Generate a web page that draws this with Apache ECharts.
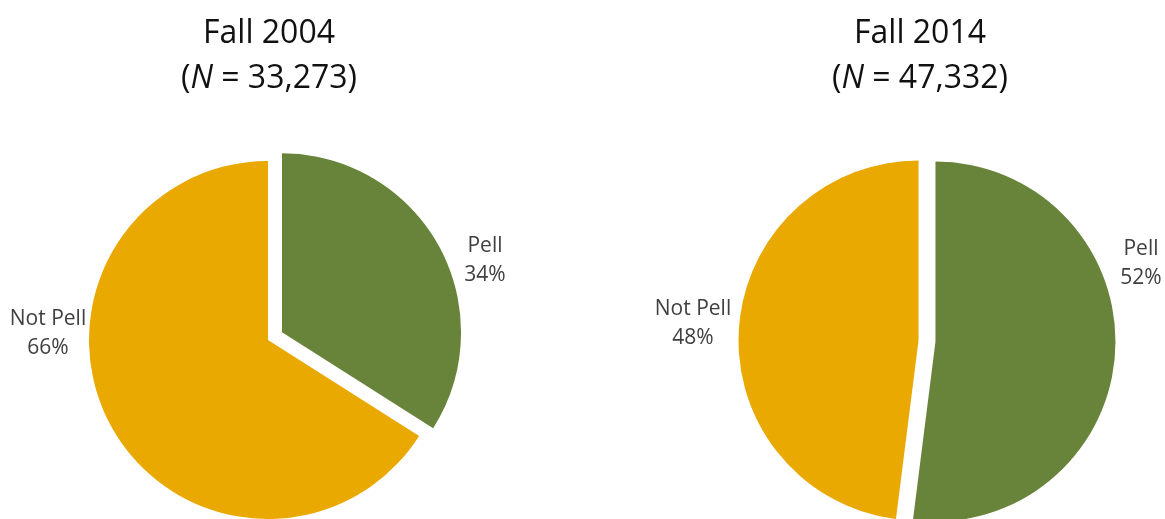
<!DOCTYPE html>
<html>
<head>
<meta charset="utf-8">
<script src="https://cdn.jsdelivr.net/npm/echarts@6/dist/echarts.min.js"></script>
<style>
  html, body { margin: 0; padding: 0; background: #fff; }
  #chart { width: 1165px; height: 519px; }
</style>
</head>
<body>
<div id="chart"></div>
<script>
var categories = ['Pell', 'Not Pell'];
var fall2004 = [34, 66];
var fall2014 = [52, 48];
var termNames = ['Fall 2004', 'Fall 2014'];
var termCounts = ['33,273', '47,332'];

(function() {
  var green = '#68843b';
  var gold = '#eaa900';
  var labelColor = '#404040';
  var font = '"Open Sans", "Liberation Sans", sans-serif';

  // where each pie sits, and where Excel dropped its data labels
  var pies = [
    { values: fall2004, center: [268, 340], radius: 179, offset: 16, exploded: [true, false],
      labelAt: [[485, 261], [48, 334]] },
    { values: fall2014, center: [927, 341], radius: 180, offset: 8.5, exploded: [true, true],
      labelAt: [[1141, 264], [693, 324]] }
  ];
  var titleX = [269, 920];

  var chart = echarts.init(document.getElementById('chart'), null, { renderer: 'canvas' });

  var titles = termNames.map(function(name, i) {
    return {
      text: name + '\n(' + '{i|N}' + ' = ' + termCounts[i] + ')',
      left: titleX[i],
      top: 11,
      padding: 0,
      textAlign: 'center',
      textStyle: {
        fontFamily: font,
        fontSize: 32,
        fontWeight: 'normal',
        color: '#111',
        lineHeight: 45,
        rich: {
          i: { fontFamily: font, fontSize: 32, fontStyle: 'italic', color: '#111', lineHeight: 45 }
        }
      }
    };
  });

  var series = pies.map(function(p) {
    return {
      type: 'pie',
      center: p.center,
      radius: p.radius,
      startAngle: 90,
      clockwise: true,
      selectedMode: 'multiple',
      selectedOffset: p.offset,
      silent: true,
      emphasis: { disabled: true },
      label: { show: false },
      labelLine: { show: false },
      data: categories.map(function(c, j) {
        return {
          name: c,
          value: p.values[j],
          selected: p.exploded[j],
          itemStyle: { color: j === 0 ? green : gold }
        };
      })
    };
  });

  // data labels, text built from the same arrays
  var labels = [];
  pies.forEach(function(p) {
    categories.forEach(function(c, j) {
      labels.push({
        type: 'text',
        x: p.labelAt[j][0],
        y: p.labelAt[j][1],
        silent: true,
        style: {
          text: c + '\n' + p.values[j] + '%',
          fontFamily: font,
          fontSize: 21,
          lineHeight: 29,
          fill: labelColor,
          align: 'center',
          verticalAlign: 'middle'
        }
      });
    });
  });

  chart.setOption({
    animation: false,
    title: titles,
    series: series,
    graphic: { elements: labels }
  });
  window.addEventListener('resize', function() { chart.resize(); });
})();
</script>
</body>
</html>
